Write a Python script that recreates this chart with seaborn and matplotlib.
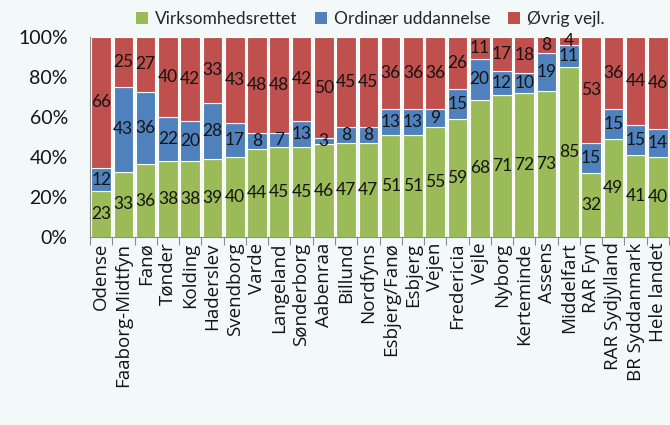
import numpy as np
import pandas as pd
import matplotlib
matplotlib.use("Agg")
import matplotlib.pyplot as plt
import seaborn as sns
from matplotlib.patches import Patch

# data
areas = ['Odense', 'Faaborg-Midtfyn', 'Fanø', 'Tønder', 'Kolding', 'Haderslev',
         'Svendborg', 'Varde', 'Langeland', 'Sønderborg', 'Aabenraa', 'Billund',
         'Nordfyns', 'Esbjerg/Fanø', 'Esbjerg', 'Vejen', 'Fredericia', 'Vejle',
         'Nyborg', 'Kerteminde', 'Assens', 'Middelfart', 'RAR Fyn',
         'RAR Sydjylland', 'BR Syddanmark', 'Hele landet']
virksomhed = [23, 33, 36, 38, 38, 39, 40, 44, 45, 45, 46, 47, 47, 51, 51, 55, 59,
              68, 71, 72, 73, 85, 32, 49, 41, 40]
ordinaer = [12, 43, 36, 22, 20, 28, 17, 8, 7, 13, 3, 8, 8, 13, 13, 9, 15, 20, 12,
            10, 19, 11, 15, 15, 15, 14]
ovrig = [66, 25, 27, 40, 42, 33, 43, 48, 48, 42, 50, 45, 45, 36, 36, 36, 26, 11,
         17, 18, 8, 4, 53, 36, 44, 46]
series = ['Virksomhedsrettet', 'Ordinær uddannelse', 'Øvrig vejl.']
colors = ['#9BBB59', '#4F81BD', '#C0504D']

bg = '#F3F8F9'
sns.set_theme(style='white')
plt.rcParams['font.family'] = ['Lato', 'DejaVu Sans']

df = pd.DataFrame({'area': areas, series[0]: virksomhed,
                   series[1]: ordinaer, series[2]: ovrig})
total = df[series].sum(axis=1)
pct = df[series].div(total, axis=0) * 100

fig = plt.figure(figsize=(6.7, 4.25), dpi=100, facecolor=bg)
ax = fig.add_axes([90 / 670, 1 - 237 / 425, 579 / 670, 200 / 425])
ax.set_facecolor(bg)

bottom = np.zeros(len(areas))
for name, col in zip(series, colors):
    tmp = pd.DataFrame({'area': areas, 'pct': pct[name].values})
    sns.barplot(data=tmp, x='area', y='pct', color=col, saturation=1,
                width=0.88, bottom=bottom, edgecolor='white', linewidth=0.8,
                ax=ax)
    c = ax.containers[-1]
    ax.bar_label(c, labels=[str(v) for v in df[name]], label_type='center',
                 fontsize=12.5, color='#141414')
    bottom = bottom + pct[name].values

ax.set_xlim(-0.5, len(areas) - 0.5)
ax.set_ylim(0, 100)
ax.set_yticks(np.arange(0, 101, 20))
ax.set_yticklabels([f'{v}%' for v in range(0, 101, 20)], fontsize=14,
                   color='#141414')
ax.set_xticks(range(len(areas)))
ax.set_xticklabels(areas, rotation=90, fontsize=13.5, color='#141414',
                   family=['Open Sans', 'DejaVu Sans'])
ax.set_xticks(np.arange(-0.5, len(areas), 1), minor=True)
ax.tick_params(axis='x', which='major', length=0, pad=4)
ax.tick_params(axis='x', which='minor', length=6, color='#8c8c8c', width=0.8,
               bottom=True)
ax.tick_params(axis='y', length=0, pad=16)
ax.set_xlabel('')
ax.set_ylabel('')

for s in ['top', 'right']:
    ax.spines[s].set_visible(False)
for s in ['left', 'bottom']:
    ax.spines[s].set_color('#8c8c8c')
    ax.spines[s].set_linewidth(0.8)

handles = [Patch(facecolor=c, edgecolor='none') for c in colors]
fig.legend(handles, series, loc='center', bbox_to_anchor=(370 / 670, 1 - 19 / 425),
           ncol=3, frameon=False, fontsize=12.5, handlelength=0.7,
           handleheight=0.7, handletextpad=0.4, columnspacing=1.0)

fig.savefig('out.png', dpi=100, facecolor=bg)
